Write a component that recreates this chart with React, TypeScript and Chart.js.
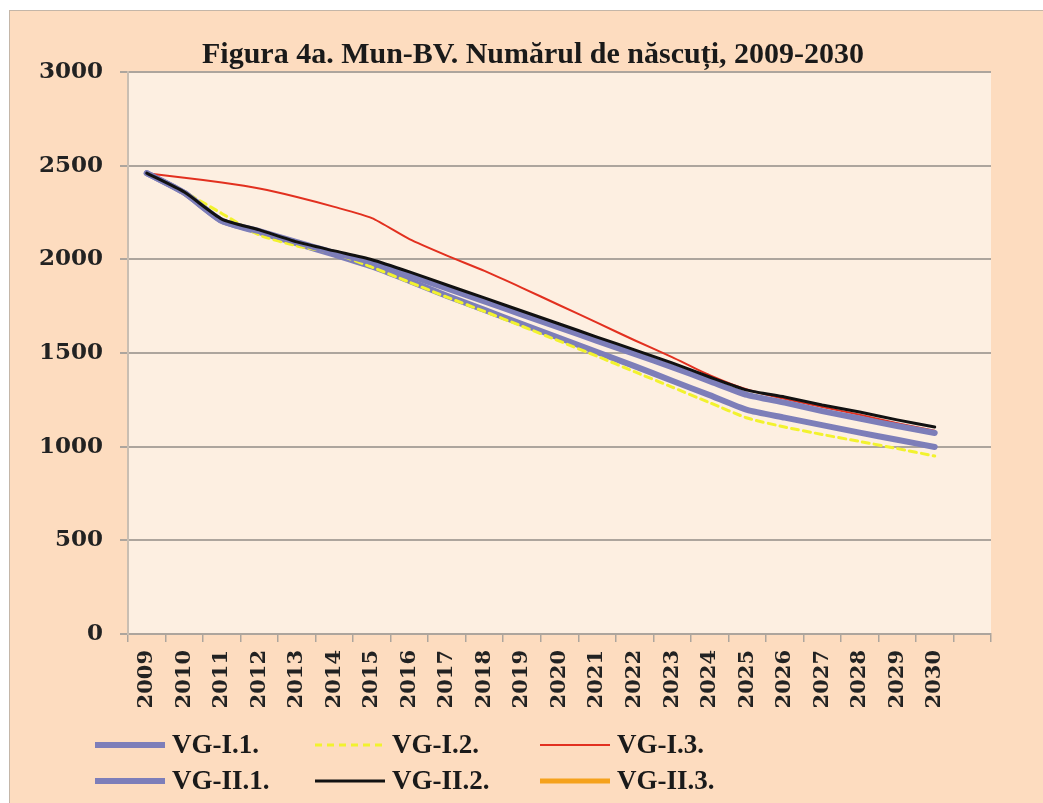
import React, { useEffect, useRef } from "react";
import { Chart, registerables } from "chart.js";

Chart.register(...registerables);

const years = [
  "2009", "2010", "2011", "2012", "2013", "2014", "2015", "2016", "2017", "2018", "2019",
  "2020", "2021", "2022", "2023", "2024", "2025", "2026", "2027", "2028", "2029", "2030",
];
const categories = [...years, ""];

const vgI1 = [2460, 2355, 2205, 2145, 2085, 2025, 1962, 1885, 1805, 1730, 1655, 1580, 1505, 1430, 1352, 1275, 1196, 1155, 1115, 1075, 1037, 998];
const vgI2 = [2460, 2360, 2245, 2130, 2072, 2032, 1958, 1878, 1798, 1722, 1643, 1563, 1483, 1400, 1318, 1235, 1153, 1105, 1065, 1028, 990, 950];
const vgI3 = [2460, 2436, 2410, 2378, 2333, 2280, 2220, 2108, 2020, 1938, 1848, 1755, 1662, 1568, 1478, 1382, 1305, 1255, 1212, 1170, 1125, 1085];
const vgII1 = [2460, 2355, 2205, 2150, 2092, 2035, 1985, 1915, 1845, 1775, 1705, 1635, 1565, 1495, 1425, 1350, 1276, 1235, 1190, 1150, 1110, 1073];
const vgII2 = [2460, 2359, 2215, 2157, 2093, 2045, 1998, 1933, 1863, 1794, 1724, 1655, 1585, 1517, 1447, 1372, 1302, 1265, 1222, 1185, 1143, 1105];
const vgII3: number[] = [];

const yTicks = [0, 500, 1000, 1500, 2000, 2500, 3000];

const TITLE = "Figura 4a. Mun-BV. Numărul de născuți, 2009-2030";
const OUTER_BG = "#FDDCBF";
const PLOT_BG = "#FDEFE1";
const GRID = "#ADA59D";
const SERIF_COND = "'Liberation Serif', serif";
const SERIF_WIDE = "'DejaVu Serif', serif";

const plotBg = {
  id: "plotBg",
  beforeDraw(chart: any) {
    const { ctx, chartArea: a } = chart;
    ctx.save();
    ctx.fillStyle = PLOT_BG;
    ctx.fillRect(a.left, a.top, a.right - a.left, a.bottom - a.top);
    ctx.restore();
  },
};

const titleAndLegend = {
  id: "titleAndLegend",
  afterDraw(chart: any) {
    const { ctx } = chart;
    ctx.save();
    ctx.fillStyle = "#1a1a1a";
    ctx.font = `bold 30px ${SERIF_COND}`;
    ctx.textAlign = "center";
    ctx.textBaseline = "middle";
    ctx.fillText(TITLE, 523, 44);

    const colX = [85, 305, 530];
    const rowY = [734, 770];
    ctx.font = `bold 27px ${SERIF_COND}`;
    ctx.textAlign = "left";
    chart.data.datasets.forEach((ds: any, i: number) => {
      const x = colX[i % 3];
      const y = rowY[Math.floor(i / 3)];
      ctx.save();
      ctx.strokeStyle = ds.borderColor;
      ctx.lineWidth = ds.borderWidth;
      ctx.setLineDash(ds.borderDash || []);
      ctx.lineCap = "butt";
      ctx.beginPath();
      ctx.moveTo(x, y);
      ctx.lineTo(x + 70, y);
      ctx.stroke();
      ctx.restore();
      ctx.fillStyle = "#1a1a1a";
      ctx.fillText(ds.label, x + 77, y + 1);
    });
    ctx.restore();
  },
};

export default function App() {
  const ref = useRef<HTMLCanvasElement | null>(null);

  useEffect(() => {
    if (!ref.current) return;
    const mk = (label: string, data: number[], color: string, width: number, order: number, dash?: number[]) => ({
      label,
      data,
      borderColor: color,
      backgroundColor: color,
      borderWidth: width,
      borderDash: dash,
      pointRadius: 0,
      tension: 0.2,
      fill: false,
      order,
      borderCapStyle: "round",
      borderJoinStyle: "round",
    });
    const chart = new Chart(ref.current, {
      type: "line",
      data: {
        labels: categories,
        datasets: [
          mk("VG-I.1.", vgI1, "#7D7EB9", 6, 6),
          mk("VG-I.2.", vgI2, "#F2F22E", 3, 5, [7, 5]),
          mk("VG-I.3.", vgI3, "#E2301F", 2, 4),
          mk("VG-II.1.", vgII1, "#7D7EB9", 6, 3),
          mk("VG-II.2.", vgII2, "#111111", 3, 2),
          mk("VG-II.3.", vgII3, "#F5A21C", 5, 1),
        ] as any,
      },
      options: {
        responsive: false,
        animation: false,
        layout: { padding: { top: 61, left: 0, right: 52, bottom: 79 } },
        plugins: { legend: { display: false }, title: { display: false }, tooltip: { enabled: false } },
        scales: {
          x: {
            type: "category",
            offset: true,
            afterFit: (s: any) => { s.height = 90; },
            grid: { offset: true, drawOnChartArea: false, drawTicks: true, tickLength: 8, color: GRID, lineWidth: 1.5 },
            border: { display: true, color: GRID, width: 2 },
            ticks: {
              autoSkip: false,
              maxRotation: 90,
              minRotation: 90,
              padding: 8,
              color: "#222",
              font: { family: SERIF_WIDE, weight: "bold", size: 21 },
            },
          },
          y: {
            min: 0,
            max: 3000,
            afterFit: (s: any) => { s.width = 118; },
            afterBuildTicks: (s: any) => { s.ticks = yTicks.map((v) => ({ value: v })); },
            grid: { color: GRID, lineWidth: 2, tickLength: 8 },
            border: { display: true, color: "#C9BEB2", width: 2 },
            ticks: {
              padding: 17,
              color: "#222",
              callback: (v: any) => String(v),
              font: { family: SERIF_WIDE, weight: "bold", size: 23 },
            },
          },
        },
      } as any,
      plugins: [plotBg, titleAndLegend],
    });
    return () => chart.destroy();
  }, []);

  return (
    <div
      style={{
        position: "absolute",
        left: 9,
        top: 10,
        width: 1034,
        height: 793,
        background: OUTER_BG,
        borderLeft: "1px solid #C4B6A8",
        borderTop: "1px solid #C4B6A8",
        boxSizing: "border-box",
      }}
    >
      <canvas ref={ref} width={1033} height={792} style={{ display: "block", width: 1033, height: 792 }} />
    </div>
  );
}
